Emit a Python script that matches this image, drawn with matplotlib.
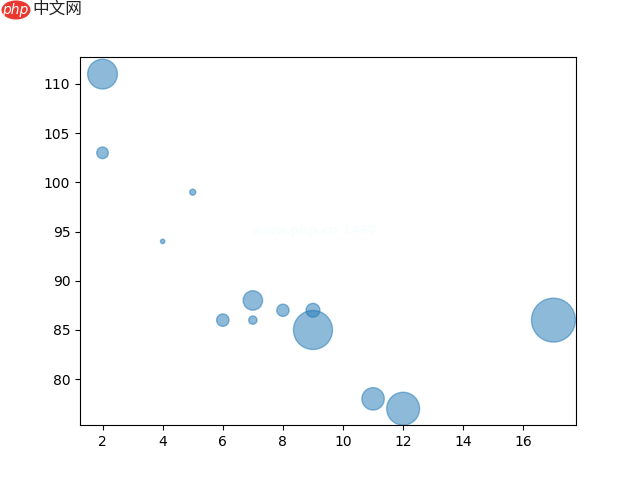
import matplotlib
matplotlib.use('Agg')
import matplotlib.pyplot as plt
from matplotlib.patches import Ellipse

# values
x = [5, 7, 8, 7, 2, 17, 2, 9, 4, 11, 12, 9, 6]
y = [99, 86, 87, 88, 111, 86, 103, 87, 94, 78, 77, 85, 86]
sizes = [19, 36, 78, 196, 460, 1000, 70, 100, 10, 260, 560, 790, 80]

fig = plt.figure(figsize=(6.4, 4.78), dpi=100)
ax = fig.add_axes([0.125, 0.11, 0.775, 0.77])
ax.scatter(x, y, s=sizes, alpha=0.5)

# faint watermark in the middle of the axes
ax.text(0.473, 0.53, 'www.php.cn 1467', transform=ax.transAxes, color='#f7fefd',
        fontsize=9, weight='bold', ha='center', va='center')

# logo at the top left
badge = Ellipse((16, 468), 29, 19, transform=None, fc='#e8382f', ec='none')
fig.add_artist(badge)
fig.text(15.5 / 640, 468 / 478, 'php', color='white', fontsize=10, style='italic',
         ha='center', va='center')
fig.text(32 / 640, 469 / 478, '中文网', family=['Noto Sans CJK SC', 'DejaVu Sans'],
         color='#222222', fontsize=12, weight='medium', ha='left', va='center')

fig.savefig('out.png', dpi=100)
